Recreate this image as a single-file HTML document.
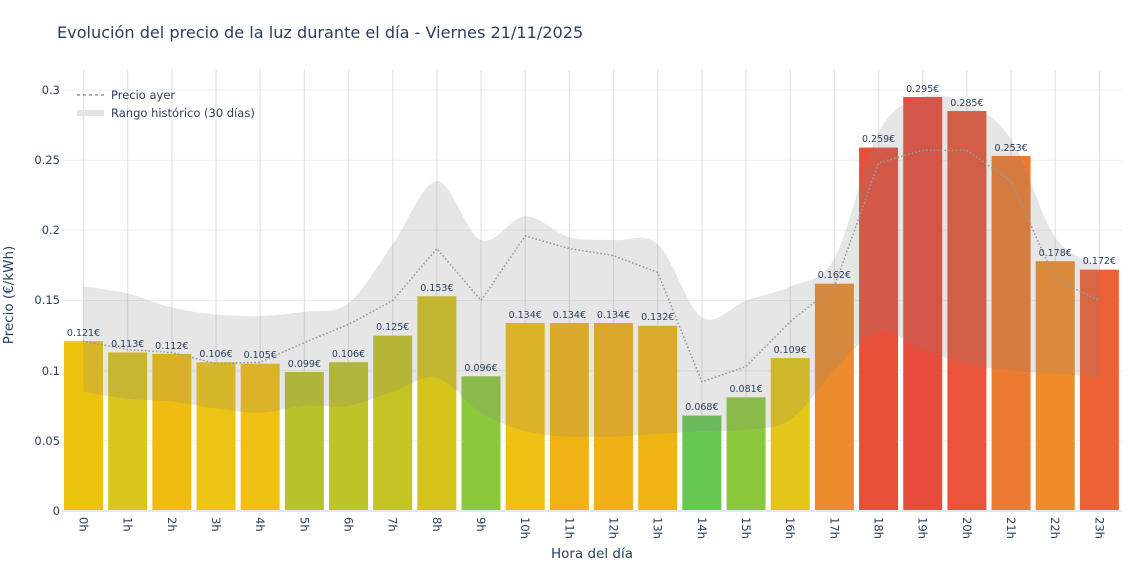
<!DOCTYPE html>
<html><head><meta charset="utf-8"><style>
body{margin:0;background:#fff;}
svg{display:block;font-family:"DejaVu Sans","Liberation Sans",sans-serif;}
</style></head><body>
<svg id="s" width="1140" height="570" xmlns="http://www.w3.org/2000/svg">
<rect width="1140" height="570" fill="#fff"/>
<g id="grid" stroke="#eceff3" stroke-width="1">
<line x1="62" x2="1122" y1="90" y2="90"/><line x1="62" x2="1122" y1="160.2" y2="160.2"/>
<line x1="62" x2="1122" y1="230.3" y2="230.3"/><line x1="62" x2="1122" y1="300.5" y2="300.5"/>
<line x1="62" x2="1122" y1="370.7" y2="370.7"/><line x1="62" x2="1122" y1="440.8" y2="440.8"/>
</g>
<g id="vg" stroke="#e4e4e4" stroke-width="1.2"></g>
<g id="bars"></g>
<path id="band" fill="rgba(128,128,128,0.2)" stroke="none"/>
<path id="yest" fill="none" stroke="#999" stroke-width="1.7" stroke-dasharray="0.1,3.6" stroke-linecap="round"/>
<line x1="62" x2="1122" y1="511" y2="511" stroke="#e3e8ef" stroke-width="2"/>
<text x="57" y="38" font-size="16.1" fill="#2a3f5f">Evolución del precio de la luz durante el día - Viernes 21/11/2025</text>
<g font-size="11.5" fill="#2a3f5f" text-anchor="end">
<text x="60" y="94">0.3</text><text x="60" y="164">0.25</text><text x="60" y="234">0.2</text>
<text x="60" y="304">0.15</text><text x="60" y="375">0.1</text><text x="60" y="445">0.05</text><text x="60" y="515">0</text>
</g>
<text transform="translate(13,295) rotate(-90)" font-size="13.5" fill="#2a3f5f" text-anchor="middle">Precio (€/kWh)</text>
<text x="592" y="558" font-size="13.5" fill="#2a3f5f" text-anchor="middle">Hora del día</text>
<g font-size="11.5" fill="#2a3f5f">
<text transform="translate(79.5,517) rotate(90)">0h</text>
<text transform="translate(123.7,517) rotate(90)">1h</text>
<text transform="translate(167.8,517) rotate(90)">2h</text>
<text transform="translate(212,517) rotate(90)">3h</text>
<text transform="translate(256.2,517) rotate(90)">4h</text>
<text transform="translate(300.4,517) rotate(90)">5h</text>
<text transform="translate(344.5,517) rotate(90)">6h</text>
<text transform="translate(388.7,517) rotate(90)">7h</text>
<text transform="translate(432.9,517) rotate(90)">8h</text>
<text transform="translate(477,517) rotate(90)">9h</text>
<text transform="translate(521.2,517) rotate(90)">10h</text>
<text transform="translate(565.4,517) rotate(90)">11h</text>
<text transform="translate(609.5,517) rotate(90)">12h</text>
<text transform="translate(653.7,517) rotate(90)">13h</text>
<text transform="translate(697.9,517) rotate(90)">14h</text>
<text transform="translate(742.1,517) rotate(90)">15h</text>
<text transform="translate(786.2,517) rotate(90)">16h</text>
<text transform="translate(830.4,517) rotate(90)">17h</text>
<text transform="translate(874.6,517) rotate(90)">18h</text>
<text transform="translate(918.7,517) rotate(90)">19h</text>
<text transform="translate(962.9,517) rotate(90)">20h</text>
<text transform="translate(1007.1,517) rotate(90)">21h</text>
<text transform="translate(1051.2,517) rotate(90)">22h</text>
<text transform="translate(1095.4,517) rotate(90)">23h</text>
</g>
<g font-size="9.5" fill="#2a3f5f" text-anchor="middle">
<text x="83.5" y="336">0.121€</text><text x="127.7" y="347">0.113€</text><text x="171.8" y="349">0.112€</text>
<text x="216" y="357">0.106€</text><text x="260.2" y="358">0.105€</text><text x="304.4" y="367">0.099€</text>
<text x="348.5" y="357">0.106€</text><text x="392.7" y="330">0.125€</text><text x="436.9" y="291">0.153€</text>
<text x="481" y="371">0.096€</text><text x="525.2" y="318">0.134€</text><text x="569.4" y="318">0.134€</text>
<text x="613.5" y="318">0.134€</text><text x="657.7" y="320">0.132€</text><text x="701.9" y="410">0.068€</text>
<text x="746.1" y="392">0.081€</text><text x="790.2" y="353">0.109€</text><text x="834.4" y="278">0.162€</text>
<text x="878.6" y="142">0.259€</text><text x="922.7" y="92">0.295€</text><text x="966.9" y="106">0.285€</text>
<text x="1011.1" y="151">0.253€</text><text x="1055.2" y="256">0.178€</text><text x="1099.4" y="264">0.172€</text>
</g>
<line x1="77" x2="104" y1="95" y2="95" stroke="#999" stroke-width="1.6" stroke-dasharray="3,3"/>
<line x1="77" x2="104" y1="113" y2="113" stroke="#e4e4e4" stroke-width="6"/>
<g font-size="11.5" fill="#2a3f5f"><text x="111" y="99">Precio ayer</text><text x="111" y="117">Rango histórico (30 días)</text></g>
</svg>
<script>
const X=i=>83.5+44.17*i, Y=v=>511-1403.3*v;
const vals=[.121,.113,.112,.106,.105,.099,.106,.125,.153,.096,.134,.134,.134,.132,.068,.081,.109,.162,.259,.295,.285,.253,.178,.172];
const cols=["#ecc40f","#dac41e","#f0bc12","#ecc414","#f0c012","#b8c22a","#bcc42a","#c4c424","#d4c41c","#8cc83c","#f0c012","#f0b214","#f0b016","#f0b414","#66c853","#8cc83c","#e4c618","#ec8c2c","#e8503a","#e74c3c","#e8553a","#ec7a30","#f08c28","#ec6234"];
const up=[.160,.155,.145,.140,.139,.142,.148,.19,.235,.193,.21,.195,.193,.19,.138,.15,.16,.18,.27,.295,.29,.265,.195,.175];
const lo=[.085,.080,.078,.073,.070,.075,.075,.085,.095,.070,.057,.053,.053,.055,.057,.058,.065,.10,.128,.115,.105,.100,.098,.095];
const ye=[.121,.115,.113,.105,.106,.12,.133,.15,.187,.15,.196,.187,.182,.17,.092,.103,.135,.16,.248,.257,.257,.235,.165,.15];
const ns="http://www.w3.org/2000/svg";
let vg=document.getElementById('vg'),bg=document.getElementById('bars');
vals.forEach((v,i)=>{let l=document.createElementNS(ns,'line');l.setAttribute('x1',X(i));l.setAttribute('x2',X(i));l.setAttribute('y1',70);l.setAttribute('y2',511);vg.appendChild(l);
let r=document.createElementNS(ns,'rect');r.setAttribute('x',X(i)-19.5);r.setAttribute('width',39);r.setAttribute('y',Y(v));r.setAttribute('height',511-Y(v));r.setAttribute('fill',cols[i]);bg.appendChild(r);});
function smooth(pts,start){let d=start?'M'+pts[0]:'';for(let i=0;i<pts.length-1;i++){let p0=pts[Math.max(0,i-1)],p1=pts[i],p2=pts[i+1],p3=pts[Math.min(pts.length-1,i+2)];
let c1=[p1[0]+(p2[0]-p0[0])/6,p1[1]+(p2[1]-p0[1])/6],c2=[p2[0]-(p3[0]-p1[0])/6,p2[1]-(p3[1]-p1[1])/6];d+=` C${c1} ${c2} ${p2}`;}return d;}
let U=up.map((v,i)=>[X(i),Y(v)]),L=lo.map((v,i)=>[X(i),Y(v)]).reverse();
document.getElementById('band').setAttribute('d',smooth(U,true)+' L'+L[0]+smooth(L,false)+'Z');
document.getElementById('yest').setAttribute('d','M'+ye.map((v,i)=>X(i)+','+Y(v)).join(' L'));
</script>
</body></html>
